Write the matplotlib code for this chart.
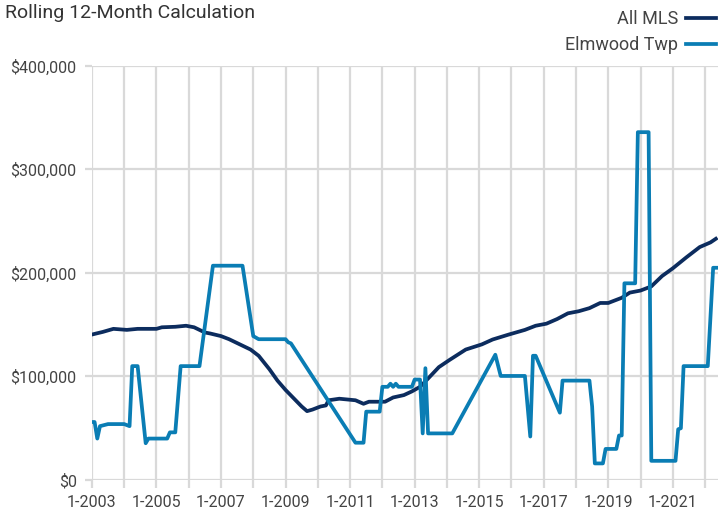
import matplotlib.pyplot as plt
from matplotlib.ticker import FuncFormatter

# Данные: номер месяца от 1-2003 и значение
mls_month = [0, 4, 8, 13, 17, 24, 26, 31, 35, 38, 42, 44, 48, 51, 55, 59, 62, 66, 69, 72,
             75, 78, 80, 82, 85, 87, 88, 92, 98, 101, 103, 109, 112, 116, 119, 122, 125,
             129, 133, 139, 145, 149, 155, 161, 165, 169, 173, 177, 181, 185, 189, 192,
             197, 200, 204, 208, 212, 216, 221, 226, 230, 232]
mls_value = [140500, 143000, 146000, 145000, 146000, 146000, 147500, 148000, 149000, 147500,
             142500, 141500, 139000, 136000, 131000, 126000, 120000, 107000, 96000, 87000,
             79000, 71000, 66500, 68000, 71000, 72000, 77000, 78500, 77000, 73600, 75600,
             75600, 79700, 82000, 85600, 90000, 98000, 109000, 116000, 126000, 131000,
             135700, 140500, 145000, 149000, 151000, 155500, 161000, 163000, 166000, 171000,
             171000, 176000, 181000, 183000, 187000, 197000, 204500, 215000, 225000, 229500,
             233000]

elm_month = [0, 1, 2, 3, 6, 12, 14, 15, 17, 20, 21, 28, 29, 31, 33, 40, 45, 56, 60, 62, 72,
             73, 74, 98, 101, 102, 107, 108, 110, 111, 112, 113, 114, 119, 120, 122, 123, 124,
             125, 134, 150, 152, 161, 163, 164, 165, 174, 175, 185, 186, 187, 190, 191, 195,
             196, 197, 198, 202, 203, 207, 208, 217, 218, 219, 220, 229, 231, 233]
elm_value = [56000, 56000, 40000, 52000, 54000, 54000, 52000, 110000, 110000, 35500, 40000,
             40000, 46000, 46000, 110000, 110000, 207000, 207000, 139000, 136000, 136000,
             133000, 132000, 36000, 36000, 66000, 66000, 90000, 90000, 93000, 90000, 93000,
             90000, 90000, 97000, 97000, 45000, 108000, 45000, 45000, 121000, 100500, 100500,
             42000, 120000, 120000, 65000, 96000, 96000, 71000, 16000, 16000, 30000, 30000,
             43000, 43000, 190000, 190000, 336000, 336000, 18500, 18500, 49000, 50000, 110000,
             110000, 205000, 205000]

years = list(range(2003, 2023))
x_labels = ['1-%d' % y if (y - 2003) % 2 == 0 else '' for y in years]

plt.rcParams['font.family'] = ['Roboto', 'DejaVu Sans']

fig = plt.figure(figsize=(7.18, 5.15), dpi=100)
ax = fig.add_axes([0.128, 0.068, 0.872, 0.804])

grid_color = '#d9d9d9'
ax.plot(mls_month, mls_value, color='#0c2c5e', linewidth=2.7, label='All MLS', zorder=3)
ax.plot(elm_month, elm_value, color='#0a7db4', linewidth=2.7, label='Elmwood Twp', zorder=3)

ax.set_xlim(0, 232.8)
ax.set_ylim(0, 400000)
ax.set_xticks([(y - 2003) * 12 for y in years])
ax.set_xticklabels(x_labels)
ax.set_yticks([0, 100000, 200000, 300000, 400000])
ax.yaxis.set_major_formatter(FuncFormatter(lambda v, p: '${:,.0f}'.format(v)))

ax.grid(True, color=grid_color, linewidth=1.6)
ax.set_axisbelow(True)
for s in ax.spines.values():
    s.set_visible(False)
ax.tick_params(axis='x', length=6, width=1.6, color=grid_color, labelsize=11.5,
               labelcolor='#444444', pad=5)
ax.tick_params(axis='y', length=5, width=1.6, color=grid_color, labelsize=11.5,
               labelcolor='#444444', pad=6)

fig.text(0.007, 0.993, 'Rolling 12-Month Calculation', fontsize=14, color='#333333',
         ha='left', va='top')
fig.legend(loc='upper right', bbox_to_anchor=(1.0, 0.984), frameon=False, markerfirst=False,
           fontsize=13, labelcolor='#444444', handlelength=1.7, handletextpad=0.4,
           labelspacing=0.45, borderaxespad=0.0, borderpad=0.1)

plt.savefig('out.png', dpi=100)
